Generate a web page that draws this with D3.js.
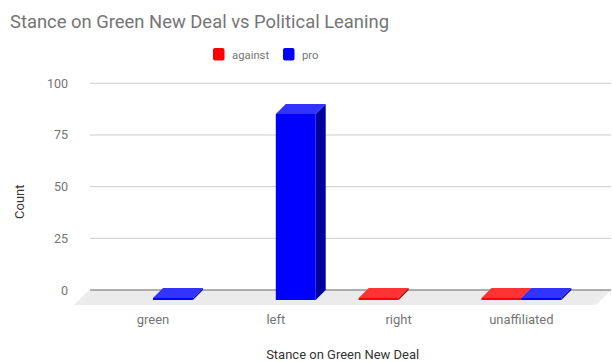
<!DOCTYPE html>
<html>
<head>
<meta charset="utf-8">
<script src="https://cdn.jsdelivr.net/npm/d3@7"></script>
<style>
  html, body { margin: 0; padding: 0; background: #fff; }
  svg { display: block; font-family: Roboto, "Noto Sans", sans-serif; }
</style>
</head>
<body>
<svg id="chart" width="612" height="362"></svg>
<script>
// Data
const categories = ["green", "left", "right", "unaffiliated"];
const seriesNames = ["against", "pro"];
const againstValues = [null, null, 1, 1];
const proValues = [1, 90, null, 1];
const yTicks = [0, 25, 50, 75, 100];

const colors = {
  against: { front: "#ff0000", top: "#ff3333", side: "#a00000" },
  pro: { front: "#0000ff", top: "#3333ff", side: "#00009c" }
};

const svg = d3.select("#chart");

// Back-wall plot area and 3D depth offsets
const backLeft = 90, backRight = 611;
const barDepth = 10, floorDepth = 15;

const y = d3.scaleLinear().domain([0, 100]).range([290, 83.3]);
const x0 = d3.scaleBand().domain(categories).range([101.6, 592.8])
  .paddingInner(0.35).paddingOuter(0.175);
const x1 = d3.scaleBand().domain(seriesNames).range([0, x0.bandwidth()]);

// Title
svg.append("text").attr("x", 10).attr("y", 28)
  .attr("font-size", 18.4).attr("fill", "#757575")
  .text("Stance on Green New Deal vs Political Leaning");

// Legend
const legend = svg.append("g").attr("transform", "translate(213,48)");
const legendItems = [{ name: "against", dx: 0 }, { name: "pro", dx: 70 }];
legendItems.forEach(d => {
  const g = legend.append("g").attr("transform", `translate(${d.dx},0)`);
  g.append("rect").attr("width", 11.5).attr("height", 12.5).attr("rx", 2)
    .attr("fill", colors[d.name].front);
  g.append("text").attr("x", 19).attr("y", 10.8)
    .attr("font-size", 11.3).attr("fill", "#757575").text(d.name);
});

// Floor
const y0 = y(0);
svg.append("polygon")
  .attr("points", [
    [backLeft - 1, y0], [backRight, y0],
    [backRight - floorDepth, y0 + floorDepth], [backLeft - 1 - floorDepth, y0 + floorDepth]
  ].map(p => p.join(",")).join(" "))
  .attr("fill", "#ebebeb");

// Gridlines on the back wall
svg.append("g").selectAll("line").data(yTicks).join("line")
  .attr("x1", backLeft).attr("x2", backRight)
  .attr("y1", d => y(d)).attr("y2", d => y(d))
  .attr("stroke", d => d === 0 ? "#666" : "#cccccc")
  .attr("stroke-width", d => d === 0 ? 1.2 : 1);

// Y axis tick labels
const yAxis = d3.axisLeft(y).tickValues(yTicks).tickSize(0).tickPadding(0);
const yAxisG = svg.append("g").attr("transform", "translate(68,0)").call(yAxis);
yAxisG.select(".domain").remove();
yAxisG.selectAll("text").attr("font-size", 12.5).attr("fill", "#757575")
  .attr("font-family", "Roboto, sans-serif");

// Bars
const barData = [];
categories.forEach((c, i) => {
  [["against", againstValues[i]], ["pro", proValues[i]]].forEach(([s, v]) => {
    if (v !== null) barData.push({ category: c, series: s, value: v });
  });
});

const bars = svg.append("g").selectAll("g").data(barData).join("g");
bars.each(function (d) {
  const g = d3.select(this);
  const xb = x0(d.category) + x1(d.series);
  const w = x1.bandwidth();
  const yt = y(d.value), yb = y(0);
  const c = colors[d.series];
  const pts = arr => arr.map(p => p.join(",")).join(" ");
  // side face
  g.append("polygon").attr("fill", c.side).attr("points", pts([
    [xb + w - barDepth, yt + barDepth], [xb + w, yt], [xb + w, yb], [xb + w - barDepth, yb + barDepth]
  ]));
  // top face
  g.append("polygon").attr("fill", c.top).attr("points", pts([
    [xb - barDepth, yt + barDepth], [xb + w - barDepth, yt + barDepth], [xb + w, yt], [xb, yt]
  ]));
  // front face
  g.append("rect").attr("fill", c.front)
    .attr("x", xb - barDepth).attr("y", yt + barDepth)
    .attr("width", w).attr("height", yb - yt);
});

// Category labels (centered on the bar fronts)
svg.append("g").selectAll("text").data(categories).join("text")
  .attr("x", d => x0(d) + x0.bandwidth() / 2 - barDepth)
  .attr("y", 324)
  .attr("text-anchor", "middle")
  .attr("font-size", 13).attr("fill", "#757575")
  .text(d => d);

// Axis titles
svg.append("text").attr("x", 342.7).attr("y", 359)
  .attr("text-anchor", "middle").attr("font-size", 13).attr("fill", "#333")
  .text("Stance on Green New Deal");

svg.append("text")
  .attr("transform", "translate(24,201.7) rotate(-90)")
  .attr("text-anchor", "middle").attr("font-size", 13).attr("fill", "#333")
  .text("Count");
</script>
</body>
</html>
